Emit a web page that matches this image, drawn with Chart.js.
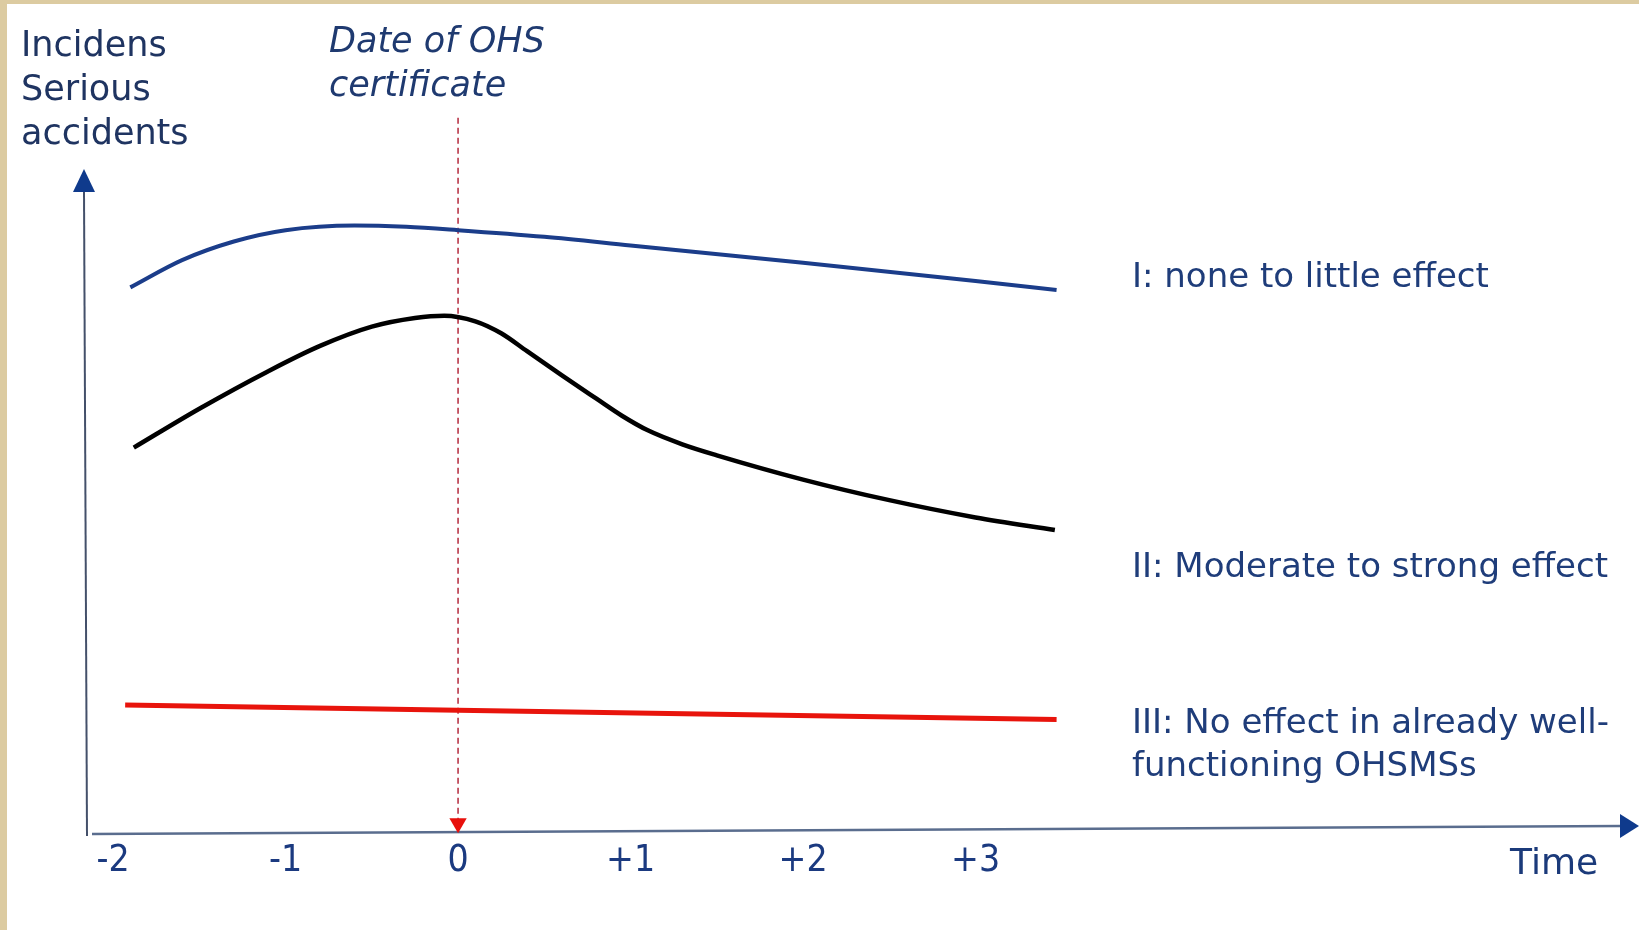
<!DOCTYPE html>
<html><head><meta charset="utf-8">
<script src="https://cdn.jsdelivr.net/npm/chart.js@4"></script>
<style>html,body{margin:0;padding:0;background:#fff;overflow:hidden}canvas{display:block}</style>
</head><body>
<canvas id="c" width="1639" height="930"></canvas>
<script>
// ---- data (x = years relative to certificate, y = relative incidence) ----
const tickValues = [-2, -1, 0, 1, 2, 3];
const tickLabels = ['-2', '-1', '0', '+1', '+2', '+3'];

const blueYears  = [-1.9, -1.6, -1.3, -1.0, -0.6, -0.3, 0, 0.5, 1.0, 2.0, 3.0, 3.47];
const blueValues = [82.2, 86.3, 89.1, 90.8, 91.5, 91.3, 90.8, 89.8, 88.5, 85.9, 83.15, 81.8];

const blackYears  = [-1.88, -1.5, -1.1, -0.8, -0.5, -0.25, -0.08, 0.1, 0.25, 0.4, 0.6, 0.8, 0.95, 1.1, 1.3, 1.5, 2.0, 2.5, 3.0, 3.46];
const blackValues = [58.1, 63.95, 69.6, 73.4, 76.3, 77.6, 77.95, 77.1, 75.3, 72.6, 69.0, 65.5, 62.9, 60.7, 58.6, 56.95, 53.3, 50.2, 47.6, 45.7];

const redYears  = [-1.93, 0, 3.47];
const redValues = [19.4, 18.6, 17.2];

const certYears  = [0, 0];
const certValues = [107.7, 1.6];

const seriesLabels = ['I: none to little effect', 'II: Moderate to strong effect', 'III: No effect in already well-functioning OHSMSs', 'Date of OHS certificate'];

const pts = (xs, ys) => xs.map((x, i) => ({ x: x, y: ys[i] }));

const decor = {
  id: 'decor',
  beforeDraw(chart) {
    const ctx = chart.ctx;
    ctx.save();
    ctx.fillStyle = '#ffffff';
    ctx.fillRect(0, 0, chart.width, chart.height);
    ctx.fillStyle = '#dccba1';
    ctx.fillRect(0, 0, 7, chart.height);
    ctx.fillRect(0, 0, chart.width, 4);
    ctx.restore();
  },
  beforeDatasetsDraw(chart) {
    const { ctx, chartArea: a } = chart;
    ctx.save();
    // y axis
    ctx.strokeStyle = '#44506a';
    ctx.lineWidth = 2;
    ctx.beginPath();
    ctx.moveTo(a.left + 1, a.bottom + 2);
    ctx.lineTo(a.left - 2, a.top + 22);
    ctx.stroke();
    ctx.fillStyle = '#0f3a8c';
    ctx.beginPath();
    ctx.moveTo(a.left - 2, a.top);
    ctx.lineTo(a.left - 13, a.top + 23);
    ctx.lineTo(a.left + 9, a.top + 23);
    ctx.closePath();
    ctx.fill();
    // x axis
    ctx.strokeStyle = '#5a6d8e';
    ctx.lineWidth = 2.5;
    ctx.beginPath();
    ctx.moveTo(a.left + 6, a.bottom);
    ctx.lineTo(a.right, a.bottom - 8);
    ctx.stroke();
    ctx.beginPath();
    ctx.moveTo(a.right + 17, a.bottom - 8);
    ctx.lineTo(a.right - 2, a.bottom - 20);
    ctx.lineTo(a.right - 2, a.bottom + 4);
    ctx.closePath();
    ctx.fill();
    ctx.restore();
  },
  afterDraw(chart) {
    const ctx = chart.ctx;
    ctx.save();
    ctx.textBaseline = 'alphabetic';
    ctx.textAlign = 'left';
    ctx.fillStyle = '#1f3461';
    ctx.font = '35px "DejaVu Sans"';
    ctx.fillText('Incidens', 21, 56);
    ctx.fillText('Serious', 21, 100);
    ctx.fillText('accidents', 21, 144);
    ctx.fillStyle = '#1f3a70';
    ctx.font = 'italic 35px "DejaVu Sans"';
    ctx.fillText('Date of OHS', 329, 52);
    ctx.fillText('certificate', 329, 96);
    ctx.fillStyle = '#1f3d7a';
    ctx.font = '34px "DejaVu Sans"';
    ctx.fillText('I: none to little effect', 1132, 287);
    ctx.fillText('II: Moderate to strong effect', 1132, 577);
    ctx.fillText('III: No effect in already well-', 1132, 733);
    ctx.fillText('functioning OHSMSs', 1132, 776);
    ctx.fillStyle = '#1b3a7a';
    ctx.font = '36px "DejaVu Sans"';
    ctx.fillText('Time', 1510, 874);
    ctx.restore();
  }
};

new Chart(document.getElementById('c'), {
  type: 'line',
  data: {
    datasets: [
      { label: seriesLabels[0], data: pts(blueYears, blueValues), borderColor: '#1b3d8a', borderWidth: 4, pointRadius: 0, cubicInterpolationMode: 'monotone', fill: false },
      { label: seriesLabels[1], data: pts(blackYears, blackValues), borderColor: '#000000', borderWidth: 4.5, pointRadius: 0, cubicInterpolationMode: 'monotone', fill: false },
      { label: seriesLabels[2], data: pts(redYears, redValues), borderColor: '#e8140c', borderWidth: 5, pointRadius: 0, tension: 0, fill: false },
      { label: seriesLabels[3], data: pts(certYears, certValues), borderColor: '#b4283c', borderWidth: 1.5, borderDash: [6, 4], tension: 0, clip: false,
        pointRadius: [0, 10], pointStyle: 'triangle', rotation: 180, pointBackgroundColor: '#e8100c', pointBorderWidth: 0, pointBorderColor: '#e8100c', fill: false }
    ]
  },
  options: {
    responsive: false,
    animation: false,
    devicePixelRatio: 1,
    layout: { padding: { left: 86, right: 17, top: 169, bottom: 0 } },
    plugins: { legend: { display: false }, tooltip: { enabled: false }, title: { display: false } },
    scales: {
      x: {
        type: 'linear',
        min: -2.157,
        max: 6.748,
        grid: { display: false, drawTicks: false },
        border: { display: false },
        afterBuildTicks: (s) => { s.ticks = tickValues.map(v => ({ value: v })); },
        afterFit: (s) => { s.height = 96; },
        ticks: {
          autoSkip: false,
          maxRotation: 0,
          padding: 5,
          color: '#1b3a80',
          font: { family: '"DejaVu Sans Condensed", "Liberation Sans Narrow", "DejaVu Sans", sans-serif', size: 37 },
          callback: (v) => { const i = tickValues.indexOf(v); return i >= 0 ? tickLabels[i] : ''; }
        }
      },
      y: { display: false, min: 0, max: 100 }
    }
  },
  plugins: [decor]
});
</script>
</body></html>
